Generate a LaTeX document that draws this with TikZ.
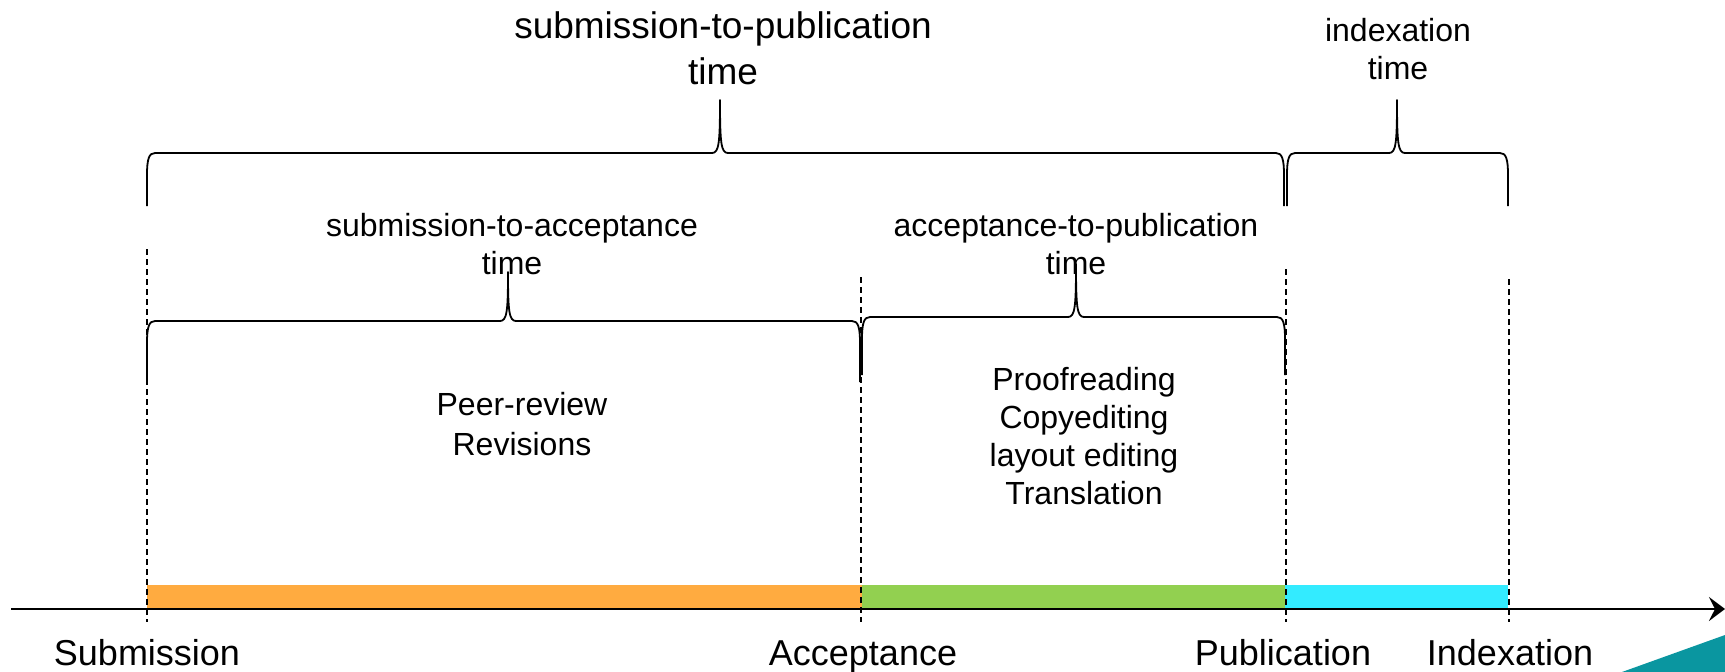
\documentclass[tikz,border=0pt]{standalone}
\usepackage{fontspec}
\setmainfont{Liberation Sans}
\usetikzlibrary{arrows.meta}
\definecolor{barorange}{HTML}{FFAB40}
\definecolor{bargreen}{HTML}{92D050}
\definecolor{barcyan}{HTML}{33EBFF}
\definecolor{cornerteal}{HTML}{0A96A0}
\newcommand{\timebrace}[6]{%
  \draw[bracestyle] (#1,#5) -- (#1,#4+22) .. controls (#1,#4+6) and (#1+2,#4) .. (#1+8,#4)
    -- (#3-8,#4) .. controls (#3-1,#4) and (#3,#4-10) .. (#3,#6)
    .. controls (#3,#4-10) and (#3+1,#4) .. (#3+8,#4)
    -- (#2-8,#4) .. controls (#2-2,#4) and (#2,#4+6) .. (#2,#4+22) -- (#2,#5);}
\begin{document}
\begin{tikzpicture}[x=1pt,y=-1pt,
  bracestyle/.style={draw=black,line width=1.8pt,line join=round},
  guide/.style={draw=black,line width=1.8pt,dash pattern=on 6pt off 4pt},
  axisline/.style={draw=black,line width=2.6pt,-{Stealth[length=16pt,width=24pt,inset=6pt]}},
  midlabel/.style={inner sep=0pt,align=center,font=\fontsize{32}{38}\selectfont},
  toplabel/.style={inner sep=0pt,align=center,font=\fontsize{37}{46}\selectfont},
  eventlabel/.style={inner sep=0pt,anchor=base,font=\fontsize{36}{43}\selectfont}]
\useasboundingbox (0,0) rectangle (1725,672);
% corner decoration
\fill[cornerteal] (1622,672) -- (1725,635) -- (1725,672) -- cycle;
% event coordinates on the axis
\coordinate (axstart) at (11,609);
\coordinate (axend) at (1725,609);
\coordinate (subm) at (147,609);
\coordinate (acc) at (862,609);
\coordinate (pub) at (1285,609);
\coordinate (idx) at (1508,609);
% bars
\fill[barorange] (147,585) rectangle (acc);
\fill[bargreen] (862,585) rectangle (pub);
\fill[barcyan] (1285,585) rectangle (idx);
% axis
\draw[axisline] (axstart) -- (axend);
% guide lines
\coordinate (g1t) at (147,249); \coordinate (g1b) at (147,622);
\coordinate (g2t) at (861,277); \coordinate (g2b) at (861,622);
\coordinate (g3t) at (1286,269); \coordinate (g3b) at (1286,622);
\coordinate (g4t) at (1509,279); \coordinate (g4b) at (1509,622);
\draw[guide] (g1t) -- (g1b);
\draw[guide] (g2t) -- (g2b);
\draw[guide] (g3t) -- (g3b);
\draw[guide] (g4t) -- (g4b);
% braces
\timebrace{147}{1284}{720}{153}{206}{100}
\timebrace{1287}{1508}{1397}{153}{206}{100}
\timebrace{147}{860}{508}{321}{382}{272}
\timebrace{862}{1285}{1076}{317}{375}{264}
% labels
\node[toplabel] (stp) at (723,48) {submission-to-publication\\time};
\node[midlabel] (ixt) at (1398,49) {indexation\\time};
\node[midlabel] (sta) at (512,244) {submission-to-acceptance\\time};
\node[midlabel] (atp) at (1076,244) {acceptance-to-publication\\time};
\node[midlabel,font=\fontsize{32}{40}\selectfont] (peer) at (522,424) {Peer-review\\Revisions};
\node[midlabel] (proof) at (1084,436) {Proofreading\\Copyediting\\layout editing\\Translation};
\node[eventlabel] (lsub) at (147,665) {Submission};
\node[eventlabel] (lacc) at (863,665) {Acceptance};
\node[eventlabel] (lpub) at (1283,665) {Publication};
\node[eventlabel] (lidx) at (1510,665) {Indexation};
\end{tikzpicture}
\end{document}
